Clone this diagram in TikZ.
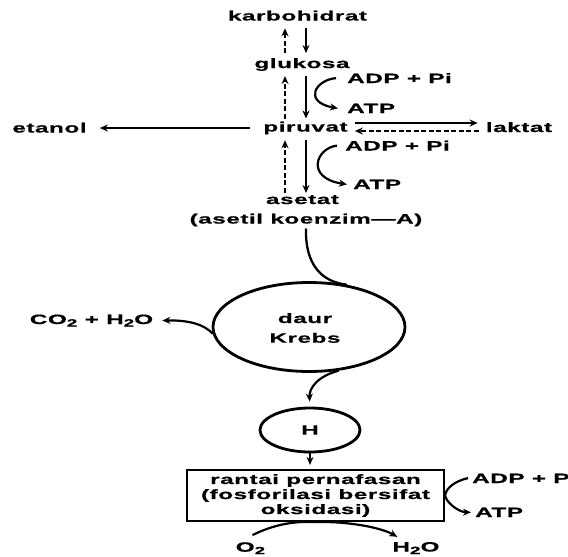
\documentclass[tikz,border=0pt]{standalone}
\usepackage{fontspec}
\usetikzlibrary{shapes.geometric,arrows.meta}
\newfontfamily\df{Liberation Sans}[FakeStretch=1.8,LetterSpace=4,BoldFeatures={FakeBold=0.6}]
\newcommand\sbt[1]{\raisebox{-2.5pt}{\fontsize{10.5}{10}\selectfont #1}}
\begin{document}
\begin{tikzpicture}[x=1pt,y=-1pt,
  lbl/.style={inner sep=2pt, font=\df\bfseries\fontsize{13.5}{15}\selectfont},
  arr/.style={line width=2.2pt, -{Stealth[length=8pt,width=7pt]}},
  dsh/.style={arr, dash pattern=on 5pt off 2.5pt, line width=2.5pt},
  ln/.style={line width=2.3pt},
  ring/.style={draw, ellipse, line width=2.8pt, inner sep=0pt}]
\clip (0,0) rectangle (568,557);
\fill[white] (0,0) rectangle (568,557);
\coordinate (c1) at (285,0);
\coordinate (c2) at (306,0);
% texts
\node[lbl,anchor=base] (karb) at (297.5,20.5) {karbohidrat};
\node[lbl,anchor=base] (gluk) at (302,68) {glukosa};
\node[lbl,anchor=base] (etan) at (49.5,132.5) {etanol};
\node[lbl,anchor=base] (piru) at (305.5,131.5) {piruvat};
\node[lbl,anchor=base] (lakt) at (519,132) {laktat};
\node[lbl,anchor=base west] (adpa) at (345,83) {ADP + Pi};
\node[lbl,anchor=base west] (atpa) at (345,113) {ATP};
\node[lbl,anchor=base west] (adpb) at (343,150.5) {ADP + Pi};
\node[lbl,anchor=base west] (atpb) at (351,189) {ATP};
\node[lbl,anchor=base] (aset) at (302.5,204) {asetat};
\node[lbl,anchor=base] (asek) at (306,223.5) {(asetil koenzim—A)};
\node[ring, minimum width=192pt, minimum height=89pt] (krebs) at (309,327) {};
\node[lbl,anchor=base] (daur) at (305,323) {daur};
\node[lbl,anchor=base] (krb) at (305,342.7) {Krebs};
\node[lbl,anchor=base] (co) at (91.5,324) {CO\sbt{2} + H\sbt{2}O};
\node[ring, minimum width=100pt, minimum height=44pt, font=\df\bfseries\fontsize{13.5}{15}\selectfont] (hh) at (310,430) {H};
\node[draw, line width=2.2pt, minimum width=257pt, minimum height=51pt, inner sep=0pt, align=center,
  font=\df\bfseries\fontsize{13.5}{15}\selectfont] (box) at (315.5,495.5)
  {rantai pernafasan\\(fosforilasi bersifat\\oksidasi)};
\node[lbl,anchor=base west] (adpc) at (470,483) {ADP + Pi};
\node[lbl,anchor=base west] (atpc) at (473,517) {ATP};
\node[lbl,anchor=base] (o2) at (250.5,551.7) {O\sbt{2}};
\node[lbl,anchor=base] (h2o) at (416,551.5) {H\sbt{2}O};
% karbohidrat <-> glukosa
\draw[dsh, shorten <=3pt, shorten >=5.5pt] (gluk.north -| c1) -- (karb.south -| c1);
\draw[arr, shorten <=5.5pt, shorten >=3pt] (karb.south -| c2) -- (gluk.north -| c2);
% glukosa <-> piruvat
\draw[dsh, shorten <=1pt, shorten >=3pt] (piru.north -| c1) -- (gluk.south -| c1);
\draw[arr, shorten <=3pt, shorten >=1pt] (gluk.south -| c2) -- (piru.north -| c2);
\draw[arr] ([xshift=-9pt]adpa.west) .. controls (315,80) and (303,102) .. ([xshift=-7pt]atpa.west);
% piruvat <-> asetat
\draw[dsh, shorten >=3.7pt] (aset.north -| c1) -- (piru.south -| c1);
\draw[arr, shorten <=3.7pt] (piru.south -| c2) -- (aset.north -| c2);
\draw[arr] ([xshift=-6pt]adpb.west) .. controls (316,148) and (305,178) .. ([xshift=-4pt]atpb.west);
% piruvat -> etanol, piruvat <-> laktat
\draw[arr, shorten <=11pt, shorten >=11pt] (piru.west) -- (piru.west -| etan.east);
\draw[arr, shorten <=5pt, shorten >=6pt] ([yshift=5pt]piru.east) -- ([yshift=5pt]piru.east -| lakt.west);
\draw[dsh, line width=2.2pt, shorten <=5pt, shorten >=5pt] ([yshift=-3pt]piru.east -| lakt.west) -- ([yshift=-3pt]piru.east);
% asetil -> Krebs
\draw[ln] (asek.south) .. controls (305,265) and (322,282) .. (krebs.48);
% Krebs -> CO2 + H2O
\draw[arr] (krebs.184) .. controls (205,325) and (190,320) .. ([xshift=7pt]co.east);
% Krebs -> H
\draw[arr, shorten >=5pt] (krebs.-56) .. controls (318,376) and (309,388) .. (hh.north);
% H -> box
\draw[arr, shorten >=4pt] (hh.south) -- (hh.south |- box.north);
% ADP + Pi -> ATP at box
\draw[arr] ([xshift=-2pt]adpc.west) .. controls (455,481) and (446,488) .. (box.east)
  .. controls (446,502) and (458,512) .. ([xshift=-2pt]atpc.west);
% O2 -> H2O
\draw[arr] ([shift={(2pt,5pt)}]o2.north) .. controls (275,524) and (295,521) .. (box.south)
  .. controls (345,521) and (380,527) .. ([shift={(7pt,3pt)}]h2o.north west);
\end{tikzpicture}
\end{document}
